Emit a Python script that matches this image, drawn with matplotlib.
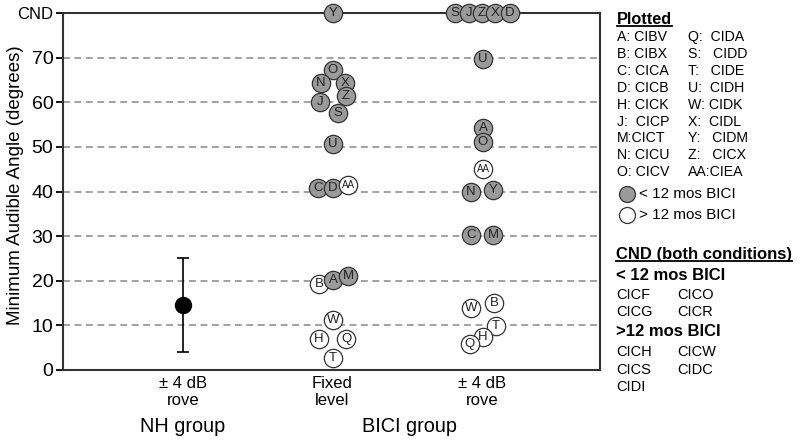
import matplotlib.pyplot as plt
from matplotlib.lines import Line2D

plt.rcParams['font.family'] = ['Liberation Sans', 'DejaVu Sans']

# CND (could not discriminate) is plotted at 80
CND = 80

# NH group, +/- 4 dB rove
nh_mean = 14.5
nh_low = 4
nh_high = 25

# BICI group, fixed level
fixed_labels = ['Y', 'O', 'N', 'X', 'J', 'Z', 'S', 'U', 'C', 'D', 'AA',
                'B', 'A', 'M', 'W', 'H', 'Q', 'T']
fixed_maa = [CND, 67.3, 64.4, 64.4, 60.1, 61.3, 57.7, 50.7, 40.8, 40.8, 41.5,
             19.3, 20.2, 21.1, 11.2, 7.0, 7.0, 2.7]
fixed_jitter = [0, 0, -0.08, 0.08, -0.087, 0.087, 0.033, 0, -0.1, 0, 0.1,
                -0.093, 0, 0.1, 0, -0.093, 0.087, 0]

# BICI group, +/- 4 dB rove
rove_labels = ['S', 'J', 'Z', 'X', 'D', 'U', 'A', 'O', 'AA', 'N', 'Y',
               'C', 'M', 'W', 'B', 'T', 'H', 'Q']
rove_maa = [CND, CND, CND, CND, CND, 69.6, 54.3, 51.2, 45.1, 40.0, 40.4,
            30.3, 30.3, 13.9, 15.0, 9.9, 7.4, 5.8]
rove_jitter = [-0.187, -0.093, -0.007, 0.08, 0.18, 0, 0, 0, 0, -0.08, 0.067,
               -0.08, 0.067, -0.08, 0.073, 0.087, 0, -0.087]

under12 = {'A', 'C', 'D', 'J', 'M', 'N', 'O', 'S', 'U', 'X', 'Y', 'Z'}

yticks = [0, 10, 20, 30, 40, 50, 60, 70, CND]
ytick_labels = ['0', '10', '20', '30', '40', '50', '60', '70', 'CND']

col1 = ['A: CIBV', 'B: CIBX', 'C: CICA', 'D: CICB', 'H: CICK', 'J:  CICP',
        'M:CICT', 'N: CICU', 'O: CICV']
col2 = ['Q:  CIDA', 'S:   CIDD', 'T:   CIDE', 'U:  CIDH', 'W: CIDK',
        'X:  CIDL', 'Y:   CIDM', 'Z:   CICX', 'AA:CIEA']
cnd_under = [('CICF', 'CICO'), ('CICG', 'CICR')]
cnd_over = [('CICH', 'CICW'), ('CICS', 'CIDC'), ('CIDI', '')]

fig = plt.figure(figsize=(8, 4.41), dpi=100)
ax = fig.add_axes([0.07875, 0.161, 0.67125, 0.8095])
ax.set_xlim(0, 3.58)
ax.set_ylim(0, CND)

for v in range(10, 80, 10):
    ax.axhline(v, color='#888888', lw=1.1, ls=(0, (4.5, 3)), zorder=1)

ax.errorbar([0.8], [nh_mean], yerr=[[nh_mean - nh_low], [nh_high - nh_mean]],
            fmt='o', color='black', ms=11.5, capsize=4.5, elinewidth=1.2, capthick=1.2, zorder=3)


def draw_group(x0, labels, vals, jit):
    for lab, v, j in zip(labels, vals, jit):
        fc = '#9a9a9a' if lab in under12 else 'white'
        ax.plot(x0 + j, v, 'o', ms=13.2, mfc=fc, mec='#333333', mew=0.9,
                zorder=4, clip_on=False)
        ax.text(x0 + j, v, lab, ha='center', va='center', fontsize=9.5 if len(lab) == 1 else 7,
                color='#222222', zorder=5)


draw_group(1.8, fixed_labels, fixed_maa, fixed_jitter)
draw_group(2.8, rove_labels, rove_maa, rove_jitter)

ax.set_yticks(yticks)
ax.set_yticklabels(ytick_labels, fontsize=14)
ax.get_yticklabels()[-1].set_fontsize(12)
ax.set_xticks([])
ax.tick_params(axis='y', length=5, width=1.3, direction='out', pad=2)
for s in ax.spines.values():
    s.set_linewidth(1.5)
    s.set_color('#333333')

fig.text(0.02, 0.58, 'Minimum Audible Angle (degrees)', rotation=90,
         ha='center', va='center', fontsize=13.5)

for x, txt in [(183, '± 4 dB\nrove'), (332, 'Fixed\nlevel'), (482, '± 4 dB\nrove')]:
    fig.text(x / 800, 1 - 376 / 441, txt, ha='center', va='top', fontsize=12,
             linespacing=1.2)
fig.text(183 / 800, 1 - 426 / 441, 'NH group', ha='center', va='center', fontsize=14.3)
fig.text(410 / 800, 1 - 426 / 441, 'BICI group', ha='center', va='center', fontsize=14.3)

# legend panel on the right
headers = []
headers.append(fig.text(617 / 800, 1 - 19 / 441, 'Plotted', fontsize=11.7,
                        fontweight='bold', va='center'))
for i, (a, b) in enumerate(zip(col1, col2)):
    y = 1 - (37 + i * 16.9) / 441
    fig.text(617 / 800, y, a, fontsize=10.2, va='center')
    fig.text(688 / 800, y, b, fontsize=10.2, va='center')

fig.add_artist(Line2D([627 / 800], [1 - 194 / 441], marker='o', ms=11.5,
                      mfc='#9a9a9a', mec='#333333', mew=0.9, transform=fig.transFigure))
fig.add_artist(Line2D([627 / 800], [1 - 215 / 441], marker='o', ms=11.5,
                      mfc='white', mec='#333333', mew=0.9, transform=fig.transFigure))
fig.text(639 / 800, 1 - 194 / 441, '< 12 mos BICI', fontsize=11, va='center')
fig.text(639 / 800, 1 - 215 / 441, '> 12 mos BICI', fontsize=11, va='center')

headers.append(fig.text(616 / 800, 1 - 254 / 441, 'CND (both conditions)',
                        fontsize=12, fontweight='bold', va='center'))
fig.text(616 / 800, 1 - 275 / 441, '< 12 mos BICI', fontsize=12,
         fontweight='bold', va='center')
for i, (a, b) in enumerate(cnd_under):
    y = 1 - (295 + i * 17.5) / 441
    fig.text(616 / 800, y, a, fontsize=10.5, va='center')
    fig.text(677 / 800, y, b, fontsize=10.5, va='center')
fig.text(616 / 800, 1 - 332 / 441, '>12 mos BICI', fontsize=12,
         fontweight='bold', va='center')
for i, (a, b) in enumerate(cnd_over):
    y = 1 - (352 + i * 17.5) / 441
    fig.text(616 / 800, y, a, fontsize=10.5, va='center')
    fig.text(677 / 800, y, b, fontsize=10.5, va='center')

# underline the headers
fig.canvas.draw()
r = fig.canvas.get_renderer()
for h in headers:
    bb = h.get_window_extent(r).transformed(fig.transFigure.inverted())
    fig.add_artist(Line2D([bb.x0, bb.x1], [bb.y0 + 0.002, bb.y0 + 0.002],
                          color='black', lw=1.3, transform=fig.transFigure))

fig.savefig('out.png', dpi=100)
